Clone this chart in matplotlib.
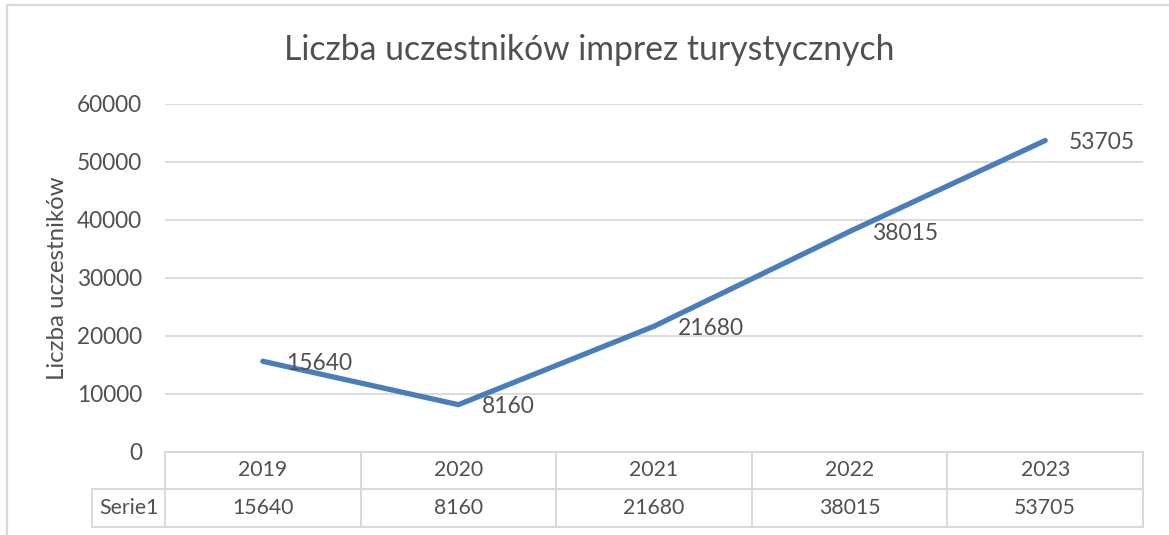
import matplotlib
matplotlib.use("Agg")
import matplotlib.pyplot as plt
from matplotlib.lines import Line2D

years = ["2019", "2020", "2021", "2022", "2023"]
values = [15640, 8160, 21680, 38015, 53705]
series_name = "Serie1"
title = "Liczba uczestników imprez turystycznych"
ylabel = "Liczba uczestników"
yticks = [0, 10000, 20000, 30000, 40000, 50000, 60000]

W, H = 1169, 535
DPI = 100
plt.rcParams['font.family'] = ['Lato', 'DejaVu Sans']
TXT = "#505050"
GRID = "#D9D9D9"
LINE = "#4A7EBB"

fig = plt.figure(figsize=(W / DPI, H / DPI), dpi=DPI)

def fx(px):
    return px / W

def fy(py):
    return (H - py) / H

# plot area in pixels
left_px, right_px = 165, 1143
top_px, bottom_px = 104, 452
ax = fig.add_axes([fx(left_px), fy(bottom_px), fx(right_px - left_px), (bottom_px - top_px) / H])
ax.set_xlim(-0.5, len(years) - 0.5)
ax.set_ylim(0, 60000)
for s in ax.spines.values():
    s.set_visible(False)
ax.set_xticks([])
ax.set_yticks(yticks)
ax.set_yticklabels([str(t) for t in yticks])
ax.tick_params(axis='y', length=0, pad=16.5, labelsize=16.3, labelcolor=TXT)
ax.grid(axis='y', color=GRID, linewidth=1.3)
ax.set_axisbelow(True)

x = list(range(len(years)))
ax.plot(x, values, color=LINE, linewidth=3.8, solid_capstyle='round', solid_joinstyle='round', zorder=3)
for xi, v in zip(x, values):
    ax.annotate(str(v), (xi, v), xytext=(17.0, -1.5), textcoords='offset points',
                ha='left', va='center', fontsize=16.4, color=TXT, zorder=4)

# title and y label
fig.text(fx(589), fy(60), title, ha='center', va='baseline', fontsize=24.3, color=TXT)
fig.text(fx(58), fy(278), ylabel, ha='center', va='center', rotation=90, fontsize=17.3, color=TXT)

# data table
col_w = (right_px - left_px) / len(years)
row1_top, row_mid, row_bot = 452, 489, 527
series_left = 92
lw = 1.4

def hline(y, x0, x1):
    fig.add_artist(Line2D([fx(x0), fx(x1)], [fy(y), fy(y)], color=GRID, linewidth=lw))

def vline(xp, y0, y1):
    fig.add_artist(Line2D([fx(xp), fx(xp)], [fy(y0), fy(y1)], color=GRID, linewidth=lw))

hline(row1_top, left_px, right_px)
hline(row_mid, series_left, right_px)
hline(row_bot, series_left, right_px)
for i in range(len(years) + 1):
    vline(left_px + i * col_w, row1_top, row_bot)
vline(series_left, row_mid, row_bot)

for i, (yr, v) in enumerate(zip(years, values)):
    cx = left_px + (i + 0.5) * col_w
    fig.text(fx(cx), fy((row1_top + row_mid) / 2), yr, ha='center', va='center', fontsize=15.3, color=TXT)
    fig.text(fx(cx), fy((row_mid + row_bot) / 2), str(v), ha='center', va='center', fontsize=15.3, color=TXT)
fig.text(fx((series_left + left_px) / 2), fy((row_mid + row_bot) / 2), series_name,
         ha='center', va='center', fontsize=15.3, color=TXT)

# outer chart frame (partially visible)
fig.add_artist(Line2D([fx(7), fx(7)], [fy(5), fy(H + 5)], color=GRID, linewidth=1.6))
fig.add_artist(Line2D([fx(7), fx(W + 5)], [fy(5), fy(5)], color=GRID, linewidth=1.6))

fig.savefig("out.png", dpi=DPI)
